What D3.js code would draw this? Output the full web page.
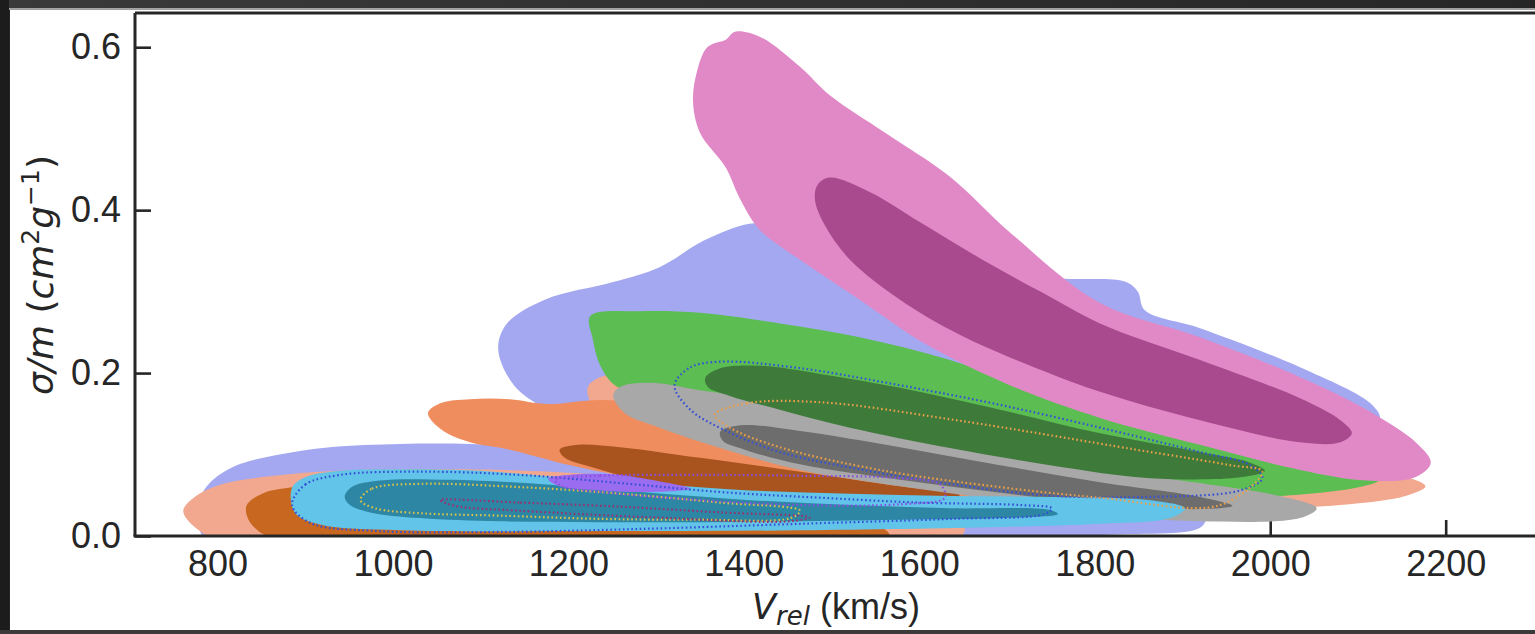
<!DOCTYPE html>
<html>
<head>
<meta charset="utf-8">
<script src="https://cdn.jsdelivr.net/npm/d3@7"></script>
<style>
  html, body { margin: 0; padding: 0; background: #262626; overflow: hidden; }
  svg { display: block; }
</style>
</head>
<body>
<svg id="chart" width="1535" height="634"></svg>
<script>
// Axis limits and ticks
const xDomain = [706, 2336];
const yDomain = [0, 0.642];
const xTicks = [800, 1000, 1200, 1400, 1600, 1800, 2000, 2200];
const yTicks = [0.0, 0.2, 0.4, 0.6];

// KDE contour outlines: [V_rel (km/s), sigma/m (cm^2/g)]
const lavenderUpper = [[1435,0.383],[1498,0.373],[1578,0.354],[1669,0.336],[1749,0.317],[1835,0.312],[1849,0.300],[1857,0.277],[1920,0.255],[2034,0.207],[2116,0.161],[2125,0.142],[2068,0.093],[1977,0.056],[1863,0.032],[1692,0.038],[1521,0.069],[1350,0.099],[1236,0.130],[1177,0.155],[1145,0.177],[1126,0.206],[1120,0.234],[1130,0.261],[1173,0.290],[1252,0.312],[1304,0.330],[1355,0.363],[1405,0.383]];
const lavenderLower = [[780,0.044],[792,0.066],[820,0.086],[866,0.099],[928,0.109],[1008,0.113],[1088,0.113],[1179,0.108],[1293,0.096],[1407,0.081],[1521,0.066],[1635,0.054],[1749,0.042],[1863,0.032],[1926,0.022],[1920,0.010],[1806,0.001],[1578,-0.011],[1236,-0.017],[894,-0.015],[786,-0.005]];
const salmonLower = [[761,0.031],[774,0.048],[803,0.063],[849,0.072],[917,0.079],[1008,0.082],[1179,0.079],[1350,0.066],[1521,0.047],[1635,0.026],[1652,0.007],[1624,-0.011],[1350,-0.023],[1008,-0.023],[814,-0.011],[774,0.011]];
const darkOrangeLower = [[833,0.037],[851,0.052],[888,0.060],[951,0.065],[1065,0.063],[1236,0.050],[1407,0.034],[1544,0.017],[1566,0.001],[1521,-0.015],[1236,-0.020],[951,-0.017],[860,-0.002],[837,0.017]];
const salmonUpper = [[1222,0.182],[1236,0.195],[1282,0.199],[1407,0.185],[1578,0.155],[1749,0.124],[1920,0.096],[2068,0.079],[2159,0.071],[2177,0.061],[2154,0.049],[2080,0.038],[1977,0.034],[1692,0.050],[1464,0.087],[1293,0.124],[1230,0.157]];
const orangeUpper = [[1040,0.151],[1054,0.163],[1088,0.168],[1133,0.168],[1177,0.162],[1236,0.167],[1350,0.157],[1521,0.133],[1692,0.099],[1863,0.069],[1988,0.049],[2017,0.038],[1920,0.031],[1749,0.038],[1578,0.050],[1407,0.060],[1282,0.071],[1202,0.087],[1133,0.106],[1088,0.115],[1056,0.130]];
const brownInner = [[1190,0.106],[1211,0.112],[1259,0.109],[1350,0.096],[1464,0.079],[1578,0.061],[1646,0.050],[1629,0.041],[1521,0.042],[1407,0.050],[1293,0.066],[1225,0.085],[1196,0.096]];
const greenOuter = [[1225,0.270],[1282,0.276],[1350,0.274],[1441,0.261],[1532,0.244],[1635,0.216],[1749,0.173],[1863,0.136],[1977,0.103],[2068,0.081],[2125,0.069],[2102,0.060],[2011,0.049],[1920,0.048],[1806,0.056],[1692,0.069],[1578,0.093],[1464,0.118],[1350,0.155],[1282,0.173],[1253,0.185],[1236,0.210],[1228,0.241]];
const grayOuter = [[1251,0.173],[1259,0.183],[1293,0.188],[1350,0.179],[1464,0.161],[1578,0.136],[1692,0.109],[1806,0.083],[1920,0.065],[2011,0.049],[2053,0.034],[2034,0.022],[1920,0.018],[1806,0.026],[1692,0.044],[1578,0.061],[1464,0.081],[1373,0.108],[1304,0.133],[1264,0.151]];
const greenInner = [[1356,0.194],[1373,0.206],[1418,0.209],[1487,0.199],[1578,0.182],[1692,0.155],[1806,0.126],[1920,0.103],[1977,0.090],[1994,0.080],[1966,0.072],[1863,0.071],[1749,0.087],[1635,0.108],[1521,0.133],[1441,0.155],[1384,0.172],[1359,0.183]];
const grayInner = [[1373,0.128],[1396,0.136],[1464,0.129],[1578,0.109],[1692,0.087],[1806,0.066],[1920,0.048],[1957,0.037],[1920,0.033],[1806,0.040],[1692,0.053],[1578,0.069],[1464,0.088],[1401,0.106],[1376,0.117]];
const cyanOuter = [[885,0.059],[900,0.072],[940,0.080],[1008,0.082],[1099,0.080],[1190,0.072],[1293,0.064],[1407,0.056],[1521,0.052],[1635,0.049],[1749,0.048],[1863,0.044],[1903,0.034],[1886,0.022],[1806,0.015],[1692,0.011],[1464,0.007],[1236,0.006],[1008,0.007],[917,0.014],[888,0.029]];
const cyanInner = [[945,0.048],[953,0.060],[985,0.068],[1065,0.069],[1179,0.063],[1293,0.053],[1407,0.044],[1521,0.038],[1635,0.034],[1749,0.032],[1758,0.027],[1692,0.022],[1578,0.020],[1464,0.018],[1350,0.017],[1236,0.017],[1122,0.018],[1031,0.022],[974,0.029],[951,0.038]];
const violetInner = [[1177,0.070],[1213,0.076],[1259,0.075],[1299,0.068],[1339,0.058],[1293,0.054],[1236,0.056],[1190,0.061]];
const pinkOuter = [[1390,0.619],[1418,0.613],[1464,0.576],[1498,0.541],[1561,0.495],[1635,0.441],[1703,0.373],[1806,0.286],[1920,0.244],[2034,0.195],[2110,0.155],[2167,0.114],[2183,0.090],[2165,0.072],[2110,0.068],[2034,0.081],[1920,0.112],[1806,0.145],[1710,0.182],[1608,0.235],[1532,0.290],[1464,0.339],[1418,0.376],[1396,0.413],[1379,0.453],[1350,0.495],[1342,0.535],[1347,0.572],[1356,0.597],[1364,0.604],[1379,0.609]];
const pinkInner = [[1498,0.440],[1544,0.422],[1601,0.385],[1669,0.341],[1738,0.300],[1806,0.261],[1920,0.216],[2034,0.169],[2080,0.142],[2093,0.126],[2080,0.115],[2034,0.115],[1920,0.142],[1806,0.177],[1738,0.204],[1646,0.247],[1578,0.290],[1521,0.339],[1492,0.382],[1481,0.413],[1484,0.431]];

// Dotted contour outlines
const blueDotUpper = [[1321,0.185],[1339,0.207],[1373,0.214],[1464,0.206],[1578,0.185],[1692,0.161],[1806,0.133],[1920,0.103],[1977,0.087],[1991,0.071],[1966,0.056],[1863,0.048],[1744,0.050],[1635,0.064],[1542,0.080],[1441,0.103],[1378,0.130],[1339,0.155]];
const orangeDotUpper = [[1367,0.149],[1404,0.163],[1490,0.164],[1643,0.142],[1847,0.106],[1954,0.087],[1991,0.079],[1943,0.038],[1806,0.047],[1692,0.060],[1555,0.081],[1441,0.109],[1384,0.133]];
const blueDotLower = [[885,0.038],[900,0.063],[940,0.075],[1031,0.079],[1145,0.075],[1259,0.065],[1373,0.054],[1487,0.047],[1601,0.041],[1715,0.038],[1751,0.034],[1743,0.027],[1635,0.021],[1464,0.015],[1293,0.009],[1122,0.005],[985,0.006],[906,0.016]];
const yellowDotLower = [[963,0.044],[976,0.058],[1031,0.064],[1145,0.060],[1259,0.052],[1373,0.041],[1464,0.031],[1453,0.022],[1350,0.020],[1236,0.021],[1122,0.025],[1031,0.028],[980,0.034]];
const violetDot = [[1185,0.069],[1236,0.074],[1350,0.075],[1464,0.074],[1578,0.071],[1624,0.063],[1629,0.047],[1578,0.039],[1464,0.038],[1350,0.044],[1236,0.054],[1193,0.061]];
const magentaDot = [[1054,0.044],[1145,0.041],[1259,0.036],[1373,0.029],[1475,0.023],[1453,0.018],[1293,0.023],[1145,0.031],[1071,0.037]];

// Fill order, back to front
const filled = [
  { d: lavenderUpper,   c: '#a3a8f1' },
  { d: lavenderLower,   c: '#a3a8f1' },
  { d: salmonLower,     c: '#f2a88e' },
  { d: darkOrangeLower, c: '#c8671f' },
  { d: salmonUpper,     c: '#f2a88e' },
  { d: orangeUpper,     c: '#ef8d5e' },
  { d: brownInner,      c: '#a9531f' },
  { d: greenOuter,      c: '#5bbd52' },
  { d: grayOuter,       c: '#a8a8a8' },
  { d: greenInner,      c: '#3e7a3a' },
  { d: grayInner,       c: '#6d6d6d' },
  { d: cyanOuter,       c: '#62c4e8' },
  { d: cyanInner,       c: '#2c86a4' },
  { d: violetInner,     c: '#9a6cf0' },
  { d: pinkOuter,       c: '#e189c7' },
  { d: pinkInner,       c: '#a84a8d' }
];
const dotted = [
  { d: blueDotUpper,   c: '#3550d6' },
  { d: orangeDotUpper, c: '#eca04a' },
  { d: blueDotLower,   c: '#3550d6' },
  { d: yellowDotLower, c: '#d9c24a' },
  { d: violetDot,      c: '#8a4fe2' },
  { d: magentaDot,     c: '#9a3070' }
];

const W = 1535, H = 634;
const svg = d3.select('#chart');
const x = d3.scaleLinear().domain(xDomain).range([135, 1565]);
const y = d3.scaleLinear().domain(yDomain).range([536, 13]);
const [x0, x1] = x.range();
const [yB, yT] = y.range();

// screen frame around the figure
svg.append('rect').attr('width', W).attr('height', H).attr('fill', '#242424');
const defs = svg.append('defs');
const grad = defs.append('linearGradient').attr('id', 'band');
grad.append('stop').attr('offset', '0%').attr('stop-color', '#3a3a3a');
grad.append('stop').attr('offset', '50%').attr('stop-color', '#303030');
grad.append('stop').attr('offset', '100%').attr('stop-color', '#262626');
svg.append('rect').attr('x', 0).attr('y', 0).attr('width', W).attr('height', 9).attr('fill', 'url(#band)');
svg.append('rect').attr('x', 10).attr('y', 10).attr('width', W - 10).attr('height', 620).attr('fill', '#ffffff');
svg.append('line').attr('x1', 9).attr('x2', W).attr('y1', 9).attr('y2', 9)
  .attr('stroke', '#c9c9c9').attr('stroke-width', 1.5);
svg.append('rect').attr('x', 0).attr('y', 0).attr('width', 9).attr('height', H).attr('fill', '#1c1c1c');

defs.append('clipPath').attr('id', 'plotClip')
  .append('rect').attr('x', x0).attr('y', yT).attr('width', x1 - x0).attr('height', yB - yT);

// axes (ticks point inward, drawn below the contours)
const tickFont = "'Liberation Sans', Arial, sans-serif";
const gx = svg.append('g').attr('transform', `translate(0,${yB})`)
  .call(d3.axisBottom(x).tickValues(xTicks).tickSize(-16).tickPadding(14).tickFormat(d3.format('d')));
const gy = svg.append('g').attr('transform', `translate(${x0},0)`)
  .call(d3.axisLeft(y).tickValues(yTicks).tickSize(-16).tickPadding(14).tickFormat(d3.format('.1f')));
[gx, gy].forEach(g => {
  g.select('.domain').remove();
  g.selectAll('.tick line').attr('stroke', '#262626').attr('stroke-width', 2.6);
  g.selectAll('.tick text').attr('fill', '#262626').style('font-family', tickFont).style('font-size', '36px');
});

// filled contours
const shape = d3.line().x(d => x(d[0])).y(d => y(d[1])).curve(d3.curveCatmullRomClosed.alpha(0.5));
const plot = svg.append('g').attr('clip-path', 'url(#plotClip)');
plot.selectAll('path.fill').data(filled).join('path')
  .attr('class', 'fill')
  .attr('d', s => shape(s.d))
  .attr('fill', s => s.c);
plot.selectAll('path.dot').data(dotted).join('path')
  .attr('class', 'dot')
  .attr('d', s => shape(s.d))
  .attr('fill', 'none')
  .attr('stroke', s => s.c)
  .attr('stroke-width', 2.2)
  .attr('stroke-dasharray', '1.6 2.6');

// spines
const spine = (p) => svg.append('path').attr('d', p).attr('fill', 'none')
  .attr('stroke', '#262626').attr('stroke-width', 3);
spine(`M${x0},${yT}V${yB}`);
spine(`M${x0},${yT}H${W}`);
spine(`M${x0 - 1.5},${yB}H${W}`);

// axis labels
const mathFont = "'DejaVu Sans', sans-serif";
const yl = svg.append('text')
  .attr('transform', 'translate(53,275) rotate(-90)')
  .attr('text-anchor', 'middle')
  .attr('fill', '#262626')
  .style('font-family', mathFont).style('font-size', '36px');
yl.append('tspan').style('font-style', 'italic').text('σ/m');
yl.append('tspan').text(' (');
yl.append('tspan').style('font-style', 'italic').text('cm');
yl.append('tspan').attr('dy', -14).style('font-size', '25px').text('2');
yl.append('tspan').attr('dy', 14).style('font-style', 'italic').text('g');
yl.append('tspan').attr('dy', -14).style('font-size', '25px').text('−1');
yl.append('tspan').attr('dy', 14).text(')');

const xl = svg.append('text')
  .attr('x', 836).attr('y', 619)
  .attr('text-anchor', 'middle')
  .attr('fill', '#262626');
xl.append('tspan').style('font-family', mathFont).style('font-style', 'italic').style('font-size', '35px').text('V');
xl.append('tspan').attr('dy', 6).style('font-family', mathFont).style('font-style', 'italic').style('font-size', '26px').text('rel');
xl.append('tspan').attr('dy', -6).style('font-family', tickFont).style('font-size', '36px').text(' (km/s)');

// bottom edge of the frame
svg.append('rect').attr('x', 0).attr('y', 630).attr('width', W).attr('height', 4).attr('fill', '#3a3a3a');
</script>
</body>
</html>
